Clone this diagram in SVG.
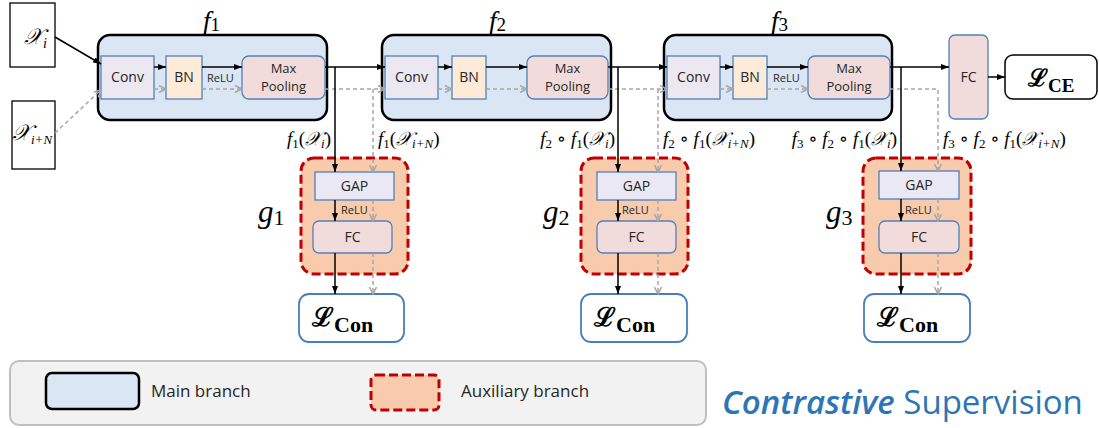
<svg xmlns="http://www.w3.org/2000/svg" width="1099" height="428" viewBox="0 0 1099 428">
<style>
.main{fill:#dae6f3;stroke:#000;stroke-width:2.5}
.conv{fill:#ebe8f2;stroke:#4f81bd;stroke-width:1.3}
.bn{fill:#fdebd8;stroke:#4f81bd;stroke-width:1.3}
.mp{fill:#f2dcdb;stroke:#4f81bd;stroke-width:1.3}
.gap{fill:#e9e8f4;stroke:#4f81bd;stroke-width:1.3}
.aux{fill:#f8cbad;stroke:#c00000;stroke-width:3;stroke-dasharray:9 4}
.loss{fill:#fff;stroke:#4a7ebb;stroke-width:1.8}
.inp{fill:#fff;stroke:#000;stroke-width:1.3}
.t{font-family:"Open Sans","Noto Sans",sans-serif;font-size:14px;fill:#262626;text-anchor:middle}
.t2{font-family:"Open Sans","Noto Sans",sans-serif;font-size:13px;fill:#262626;text-anchor:middle}
.relu{font-family:"Open Sans","Noto Sans",sans-serif;font-size:11px;fill:#262626}
.m{font-family:"Liberation Serif","DejaVu Serif",serif;font-style:italic;fill:#000}
.s{stroke:#000;stroke-width:1.5;fill:none}
.d{stroke:#a6a6a6;stroke-width:1.5;fill:none;stroke-dasharray:4 3}
.lg{font-family:"Open Sans","Noto Sans",sans-serif;font-size:17px;fill:#262626}
</style>
<defs>
<marker id="ab" markerWidth="8" markerHeight="6" refX="8" refY="3" orient="auto" markerUnits="userSpaceOnUse"><path d="M0,0 L8,3 L0,6 z" fill="#000"/></marker>
<marker id="ag" markerWidth="9" markerHeight="8" refX="8" refY="4" orient="auto" markerUnits="userSpaceOnUse"><path d="M1,0.5 L8,4 L1,7.5" fill="none" stroke="#a6a6a6" stroke-width="1.5"/></marker>
</defs>

<g id="input-xi">
<rect class="inp" x="10" y="3" width="45" height="64"/>
<text class="m" x="24" y="44" font-size="22">𝒳<tspan font-size="14" dy="4">i</tspan></text>
</g>
<g id="input-xiN">
<rect class="inp" x="12" y="101" width="43" height="68"/>
<text class="m" x="12" y="140" font-size="22">𝒳<tspan font-size="13" dy="4">i+N</tspan></text>
</g>

<g id="f1">
<rect class="main" x="98" y="35" width="229" height="85" rx="12"/>
<text class="m" x="203" y="30" font-size="27">f<tspan font-size="19" font-style="normal" dy="1">1</tspan></text>
<rect class="conv" x="101" y="56" width="53" height="43"/>
<text class="t" x="127.5" y="82">Conv</text>
<rect class="bn" x="166" y="56" width="36" height="43"/>
<text class="t" x="184" y="82">BN</text>
<text class="relu" x="207" y="82">ReLU</text>
<rect class="mp" x="242" y="56" width="83" height="43" rx="7"/>
<text class="t2" x="283.5" y="73">Max</text>
<text class="t2" x="283.5" y="91">Pooling</text>
</g>

<g id="f2">
<rect class="main" x="382" y="35" width="229" height="85" rx="12"/>
<text class="m" x="489" y="30" font-size="27">f<tspan font-size="19" font-style="normal" dy="1">2</tspan></text>
<rect class="conv" x="385" y="56" width="53" height="43"/>
<text class="t" x="411.5" y="82">Conv</text>
<rect class="bn" x="452" y="56" width="34" height="43"/>
<text class="t" x="469" y="82">BN</text>
<rect class="mp" x="527" y="56" width="81" height="43" rx="7"/>
<text class="t2" x="567.5" y="73">Max</text>
<text class="t2" x="567.5" y="91">Pooling</text>
</g>

<g id="f3">
<rect class="main" x="664" y="35" width="228" height="85" rx="12"/>
<text class="m" x="771" y="30" font-size="27">f<tspan font-size="19" font-style="normal" dy="1">3</tspan></text>
<rect class="conv" x="667" y="56" width="53" height="43"/>
<text class="t" x="693.5" y="82">Conv</text>
<rect class="bn" x="733" y="56" width="34" height="43"/>
<text class="t" x="750" y="82">BN</text>
<text class="relu" x="773" y="82">ReLU</text>
<rect class="mp" x="808" y="56" width="82" height="43" rx="7"/>
<text class="t2" x="849" y="73">Max</text>
<text class="t2" x="849" y="91">Pooling</text>
</g>

<g id="fc-main">
<rect class="mp" x="949" y="35" width="39" height="84" rx="6"/>
<text class="t" x="968.5" y="82">FC</text>
</g>
<g id="loss-ce">
<rect x="1005" y="55" width="92" height="44" rx="8" fill="#fff" stroke="#000" stroke-width="1.5"/>
<text x="1028" y="86" font-family="'DejaVu Serif','Liberation Serif',serif" font-weight="bold" font-size="24">ℒ<tspan font-family="'Liberation Serif',serif" font-size="19" dy="6">CE</tspan></text>
</g>

<g id="g1">
<rect class="aux" x="301" y="158" width="107" height="116" rx="13"/>
<text class="m" x="258" y="222" font-size="31">g<tspan font-size="22" font-style="normal" dy="3">1</tspan></text>
<rect class="gap" x="315" y="172" width="79" height="28"/>
<text class="t" x="354.5" y="191">GAP</text>
<text class="relu" x="341" y="214">ReLU</text>
<rect class="mp" x="313" y="221" width="79" height="32" rx="6"/>
<text class="t" x="352.5" y="242">FC</text>
</g>
<g id="g2">
<rect class="aux" x="581" y="158" width="107" height="116" rx="13"/>
<text class="m" x="543" y="222" font-size="31">g<tspan font-size="22" font-style="normal" dy="3">2</tspan></text>
<rect class="gap" x="597" y="172" width="79" height="28"/>
<text class="t" x="636.5" y="191">GAP</text>
<text class="relu" x="622" y="214">ReLU</text>
<rect class="mp" x="597" y="221" width="79" height="32" rx="6"/>
<text class="t" x="636.5" y="242">FC</text>
</g>
<g id="g3">
<rect class="aux" x="863" y="158" width="108" height="116" rx="13"/>
<text class="m" x="826" y="222" font-size="31">g<tspan font-size="22" font-style="normal" dy="3">3</tspan></text>
<rect class="gap" x="879" y="171" width="80" height="28"/>
<text class="t" x="919" y="190">GAP</text>
<text class="relu" x="905" y="214">ReLU</text>
<rect class="mp" x="879" y="221" width="80" height="32" rx="6"/>
<text class="t" x="919" y="242">FC</text>
</g>

<g id="loss-con-1">
<rect class="loss" x="299" y="294" width="105" height="48" rx="10"/>
<text x="312" y="326" font-family="'DejaVu Serif','Liberation Serif',serif" font-weight="bold" font-size="26">ℒ<tspan font-family="'Liberation Serif',serif" font-size="22" dy="6">Con</tspan></text>
</g>
<g id="loss-con-2">
<rect class="loss" x="581" y="294" width="106" height="48" rx="10"/>
<text x="594" y="326" font-family="'DejaVu Serif','Liberation Serif',serif" font-weight="bold" font-size="26">ℒ<tspan font-family="'Liberation Serif',serif" font-size="22" dy="6">Con</tspan></text>
</g>
<g id="loss-con-3">
<rect class="loss" x="864" y="294" width="106" height="48" rx="10"/>
<text x="877" y="326" font-family="'DejaVu Serif','Liberation Serif',serif" font-weight="bold" font-size="26">ℒ<tspan font-family="'Liberation Serif',serif" font-size="22" dy="6">Con</tspan></text>
</g>

<g id="labels" class="m" font-size="19">
<text x="331" y="145" text-anchor="end">f<tspan font-size="13" font-style="normal" dy="3">1</tspan><tspan font-style="normal" dy="-3">(</tspan>𝒳<tspan font-size="13" dy="3">i</tspan><tspan font-style="normal" dy="-3">)</tspan></text>
<text x="378" y="145">f<tspan font-size="13" font-style="normal" dy="3">1</tspan><tspan font-style="normal" dy="-3">(</tspan>𝒳<tspan font-size="13" dy="3">i+N</tspan><tspan font-style="normal" dy="-3">)</tspan></text>
<text x="615" y="145" text-anchor="end">f<tspan font-size="13" font-style="normal" dy="3">2</tspan><tspan font-style="normal" dy="-3"> ∘ </tspan>f<tspan font-size="13" font-style="normal" dy="3">1</tspan><tspan font-style="normal" dy="-3">(</tspan>𝒳<tspan font-size="13" dy="3">i</tspan><tspan font-style="normal" dy="-3">)</tspan></text>
<text x="663" y="145">f<tspan font-size="13" font-style="normal" dy="3">2</tspan><tspan font-style="normal" dy="-3"> ∘ </tspan>f<tspan font-size="13" font-style="normal" dy="3">1</tspan><tspan font-style="normal" dy="-3">(</tspan>𝒳<tspan font-size="13" dy="3">i+N</tspan><tspan font-style="normal" dy="-3">)</tspan></text>
<text x="897" y="145" text-anchor="end">f<tspan font-size="13" font-style="normal" dy="3">3</tspan><tspan font-style="normal" dy="-3"> ∘ </tspan>f<tspan font-size="13" font-style="normal" dy="3">2</tspan><tspan font-style="normal" dy="-3"> ∘ </tspan>f<tspan font-size="13" font-style="normal" dy="3">1</tspan><tspan font-style="normal" dy="-3">(</tspan>𝒳<tspan font-size="13" dy="3">i</tspan><tspan font-style="normal" dy="-3">)</tspan></text>
<text x="943" y="145">f<tspan font-size="13" font-style="normal" dy="3">3</tspan><tspan font-style="normal" dy="-3"> ∘ </tspan>f<tspan font-size="13" font-style="normal" dy="3">2</tspan><tspan font-style="normal" dy="-3"> ∘ </tspan>f<tspan font-size="13" font-style="normal" dy="3">1</tspan><tspan font-style="normal" dy="-3">(</tspan>𝒳<tspan font-size="13" dy="3">i+N</tspan><tspan font-style="normal" dy="-3">)</tspan></text>
</g>

<g id="connectors">
<line class="s" x1="55" y1="37" x2="101" y2="64" marker-end="url(#ab)"/>
<line class="d" x1="55" y1="133" x2="101" y2="90" marker-end="url(#ag)"/>
<line class="s" x1="154" y1="67" x2="166" y2="67" marker-end="url(#ab)"/>
<line class="s" x1="202" y1="67" x2="242" y2="67" marker-end="url(#ab)"/>
<line class="d" x1="154" y1="89" x2="166" y2="89" marker-end="url(#ag)"/>
<line class="d" x1="202" y1="89" x2="242" y2="89" marker-end="url(#ag)"/>
<line class="s" x1="325" y1="67" x2="385" y2="67" marker-end="url(#ab)"/>
<line class="d" x1="325" y1="89" x2="385" y2="89" marker-end="url(#ag)"/>
<line class="s" x1="335" y1="67" x2="335" y2="172" marker-end="url(#ab)"/>
<line class="d" x1="373" y1="89" x2="373" y2="172" marker-end="url(#ag)"/>
<line class="s" x1="335" y1="200" x2="335" y2="221" marker-end="url(#ab)"/>
<line class="d" x1="373" y1="200" x2="373" y2="221" marker-end="url(#ag)"/>
<line class="s" x1="335" y1="253" x2="335" y2="294" marker-end="url(#ab)"/>
<line class="d" x1="373" y1="253" x2="373" y2="294" marker-end="url(#ag)"/>

<line class="s" x1="438" y1="67" x2="452" y2="67" marker-end="url(#ab)"/>
<line class="s" x1="486" y1="67" x2="527" y2="67" marker-end="url(#ab)"/>
<line class="d" x1="438" y1="89" x2="452" y2="89" marker-end="url(#ag)"/>
<line class="d" x1="486" y1="89" x2="527" y2="89" marker-end="url(#ag)"/>
<line class="s" x1="608" y1="67" x2="667" y2="67" marker-end="url(#ab)"/>
<line class="d" x1="608" y1="89" x2="667" y2="89" marker-end="url(#ag)"/>
<line class="s" x1="618" y1="67" x2="618" y2="172" marker-end="url(#ab)"/>
<line class="d" x1="658" y1="89" x2="658" y2="172" marker-end="url(#ag)"/>
<line class="s" x1="618" y1="200" x2="618" y2="221" marker-end="url(#ab)"/>
<line class="d" x1="658" y1="200" x2="658" y2="221" marker-end="url(#ag)"/>
<line class="s" x1="618" y1="253" x2="618" y2="294" marker-end="url(#ab)"/>
<line class="d" x1="658" y1="253" x2="658" y2="294" marker-end="url(#ag)"/>

<line class="s" x1="720" y1="67" x2="733" y2="67" marker-end="url(#ab)"/>
<line class="s" x1="767" y1="67" x2="808" y2="67" marker-end="url(#ab)"/>
<line class="d" x1="720" y1="89" x2="733" y2="89" marker-end="url(#ag)"/>
<line class="d" x1="767" y1="89" x2="808" y2="89" marker-end="url(#ag)"/>
<line class="s" x1="890" y1="67" x2="949" y2="67" marker-end="url(#ab)"/>
<polyline class="d" points="890,89 938,89 938,171" marker-end="url(#ag)"/>
<line class="s" x1="901" y1="67" x2="901" y2="171" marker-end="url(#ab)"/>
<line class="s" x1="901" y1="199" x2="901" y2="221" marker-end="url(#ab)"/>
<line class="d" x1="938" y1="199" x2="938" y2="221" marker-end="url(#ag)"/>
<line class="s" x1="901" y1="253" x2="901" y2="294" marker-end="url(#ab)"/>
<line class="d" x1="938" y1="253" x2="938" y2="294" marker-end="url(#ag)"/>
<line class="s" x1="988" y1="77" x2="1005" y2="77" marker-end="url(#ab)"/>
</g>

<g id="legend">
<rect x="10" y="361" width="696" height="64" rx="9" fill="#f2f2f2" stroke="#bfbfbf" stroke-width="2"/>
<rect class="main" x="46" y="373" width="93" height="36" rx="6" stroke-width="2"/>
<text class="lg" x="151" y="397">Main branch</text>
<rect class="aux" x="371" y="375" width="68" height="35" rx="5" stroke-width="2.5" stroke-dasharray="6 3"/>
<text class="lg" x="461" y="397">Auxiliary branch</text>
</g>
<text id="title" x="722" y="414" font-family="'Open Sans','Noto Sans',sans-serif" font-size="33" fill="#2e75b6"><tspan font-style="italic" font-weight="600">Contrastive</tspan> Supervision</text>
</svg>
